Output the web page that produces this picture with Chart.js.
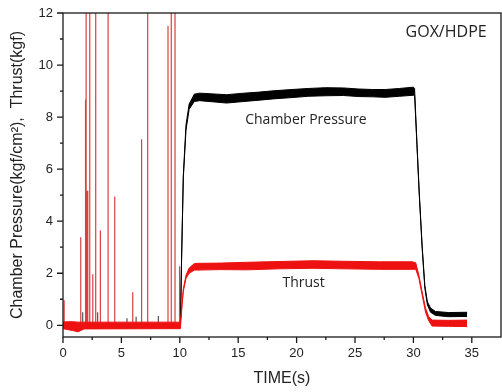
<!DOCTYPE html>
<html>
<head>
<meta charset="utf-8">
<script src="https://cdn.jsdelivr.net/npm/chart.js@4.4.1/dist/chart.umd.min.js"></script>
<style>
html,body{margin:0;padding:0;background:#fff;}
</style>
</head>
<body>
<canvas id="motorChart" width="502" height="392"></canvas>
<script>

// axis ticks
const xTicks = [0, 5, 10, 15, 20, 25, 30, 35];
const xMinor = [2.5, 7.5, 12.5, 17.5, 22.5, 27.5, 32.5];
const yTicks = [0, 2, 4, 6, 8, 10, 12];
const yMinor = [1, 3, 5, 7, 9, 11];

// chamber pressure, noise band upper / lower edge (kgf/cm2)
const pressTime = [0, 10.05, 10.15, 10.3, 10.53, 10.8, 11.24, 11.7, 12.5, 14.0, 15.5, 16.8, 18.0, 19.6, 21.0, 22.5, 24.0, 25.3, 26.5, 27.6, 28.8, 30.0, 30.1, 30.3, 30.5, 30.75, 30.98, 31.2, 31.47, 31.9, 33.0, 34.6];
const pressHi   = [0.05, 0.05, 2.55, 5.75, 7.7, 8.5, 8.88, 8.92, 8.9, 8.86, 8.92, 8.96, 9.01, 9.06, 9.1, 9.13, 9.12, 9.08, 9.06, 9.06, 9.1, 9.15, 9.1, 7.05, 5.12, 3.05, 1.52, 0.9, 0.66, 0.53, 0.49, 0.5];
const pressLo   = [-0.05, -0.05, 2.45, 5.65, 7.5, 8.3, 8.6, 8.63, 8.6, 8.54, 8.6, 8.65, 8.7, 8.75, 8.8, 8.82, 8.83, 8.79, 8.78, 8.76, 8.8, 8.84, 8.84, 6.95, 5.02, 2.95, 1.42, 0.78, 0.5, 0.38, 0.33, 0.34];

// thrust, noise band upper / lower edge (kgf)
const thrustTime = [0, 0.8, 1.3, 1.8, 10.05, 10.2, 10.3, 10.53, 10.8, 11.24, 11.4, 13.5, 15.7, 18.5, 21.4, 24.0, 27.1, 29.9, 30.2, 30.47, 30.75, 31.04, 31.3, 31.6, 33.0, 34.6];
const thrustHi   = [0.13, 0.14, 0.12, 0.12, 0.12, 0.88, 1.4, 1.92, 2.2, 2.37, 2.38, 2.39, 2.42, 2.45, 2.48, 2.46, 2.44, 2.44, 2.4, 1.92, 1.28, 0.66, 0.34, 0.2, 0.19, 0.2];
const thrustLo   = [-0.13, -0.2, -0.25, -0.14, -0.13, 0.8, 1.3, 1.8, 2.0, 2.12, 2.12, 2.14, 2.13, 2.17, 2.19, 2.17, 2.15, 2.15, 2.15, 1.8, 1.16, 0.5, 0.18, -0.03, -0.04, -0.05];

// pre-ignition noise spikes
const spikeTime   = [0.1, 1.52, 1.93, 1.95, 1.98, 2.08, 2.12, 2.29, 2.55, 2.80, 3.2, 3.86, 4.43, 5.97, 6.73, 7.25, 8.99, 9.27, 9.59, 9.98];
const spikeHeight = [0.96, 3.38, 8.68, 8.68, 14, 5.17, 5.17, 14, 1.96, 14, 3.64, 14, 4.95, 1.27, 7.15, 14, 11.5, 14, 14, 2.27];
const pSpikeTime   = [1.69, 2.97, 5.48, 6.26, 8.16];
const pSpikeHeight = [0.5, 0.5, 0.27, 0.33, 0.36];

function toPoints(xs, ys){
return xs.map((x,i)=>({x:x, y:ys[i]}));
}

function spikePoints(xs, hs){
const pts = [];
xs.forEach((x,i)=>{
pts.push({x:x, y:0});
pts.push({x:x, y:hs[i]});
pts.push({x:x, y:null});
});
return pts;
}

const line = (data, color, width, fill) => ({
data:data,
borderColor:color,
backgroundColor:color,
borderWidth:width,
pointRadius:0,
showLine:true,
fill:fill,
tension:0
});

const frame = {
id:"frame",
afterDraw(chart){
const c = chart.ctx;
const a = chart.chartArea;
const xs = chart.scales.x;
const ys = chart.scales.y;
c.save();
c.strokeStyle = "#1a1a1a";
c.lineWidth = 1.3;
c.strokeRect(a.left, a.top, a.right - a.left, a.bottom - a.top);
c.beginPath();
xTicks.forEach(v=>{ const p = xs.getPixelForValue(v); c.moveTo(p, a.bottom); c.lineTo(p, a.bottom + 6); });
xMinor.forEach(v=>{ const p = xs.getPixelForValue(v); c.moveTo(p, a.bottom); c.lineTo(p, a.bottom + 3); });
yTicks.forEach(v=>{ const p = ys.getPixelForValue(v); c.moveTo(a.left, p); c.lineTo(a.left - 6, p); });
yMinor.forEach(v=>{ const p = ys.getPixelForValue(v); c.moveTo(a.left, p); c.lineTo(a.left - 3, p); });
c.stroke();

c.fillStyle = "#222";
c.textAlign = "center";
c.textBaseline = "middle";
c.font = "14px 'Open Sans'";
c.fillText("Chamber Pressure", xs.getPixelForValue(20.8), ys.getPixelForValue(7.9));
c.fillText("Thrust", xs.getPixelForValue(20.6), ys.getPixelForValue(1.63));
c.font = "16px 'Open Sans'";
c.fillText("GOX/HDPE", xs.getPixelForValue(32.8), ys.getPixelForValue(11.24));
c.restore();
}
};

new Chart(document.getElementById("motorChart"),{
type:"scatter",
data:{
datasets:[
line(toPoints(thrustTime, thrustHi), "#ee1111", 1, false),
line(toPoints(thrustTime, thrustLo), "#ee1111", 1, "-1"),
line(spikePoints(pSpikeTime, pSpikeHeight), "#333", 1, false),
line(spikePoints(spikeTime, spikeHeight), "rgba(210,30,30,0.85)", 1.2, false),
line(toPoints(pressTime, pressHi), "#000", 1, false),
line(toPoints(pressTime, pressLo), "#000", 1, "-1")
]
},
options:{
responsive:false,
animation:false,
devicePixelRatio:1,
layout:{padding:{top:13, right:1, left:0, bottom:0}},
plugins:{
legend:{display:false},
tooltip:{enabled:false}
},
scales:{
x:{
type:"linear",
min:0,
max:37.5,
afterBuildTicks:s=>{ s.ticks = xTicks.map(v=>({value:v})); },
afterFit:s=>{ s.height = 55; s.paddingLeft = 0; s.paddingRight = 0; },
grid:{display:false, drawTicks:false},
border:{display:false},
ticks:{padding:9, color:"#222", font:{family:"'Liberation Sans', Arial", size:13}, autoSkip:false, maxRotation:0},
title:{display:true, text:"TIME(s)", color:"#222", font:{family:"'Liberation Sans', Arial", size:16}, padding:{top:4, bottom:4}}
},
y:{
min:-0.45,
max:12,
afterBuildTicks:s=>{ s.ticks = yTicks.map(v=>({value:v})); },
afterFit:s=>{ s.width = 63; s.paddingTop = 0; s.paddingBottom = 0; },
grid:{display:false, drawTicks:false},
border:{display:false},
ticks:{padding:10, color:"#222", font:{family:"'Liberation Sans', Arial", size:13}, autoSkip:false},
title:{display:true, text:"Chamber Pressure(kgf/cm²),  Thrust(kgf)", color:"#222", font:{family:"'Liberation Sans', Arial", size:16}, padding:{top:8, bottom:0}}
}
}
},
plugins:[frame]
});

</script>
</body>
</html>
